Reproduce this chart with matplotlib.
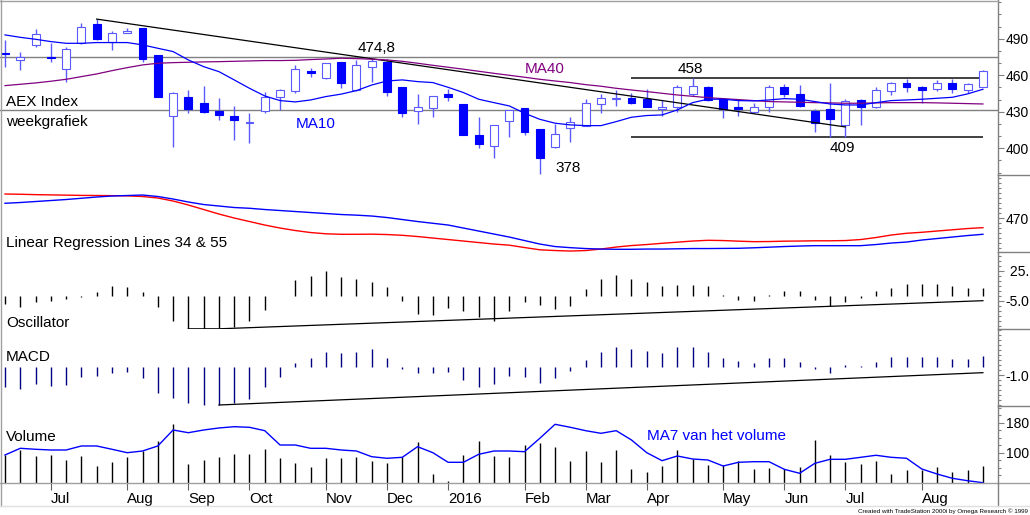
import numpy as np
import pandas as pd
import matplotlib
matplotlib.use("Agg")
import matplotlib.pyplot as plt
from matplotlib.lines import Line2D

# ---------------- data ----------------
WEEKS = pd.date_range("2015-06-12", "2016-09-02", freq="W-FRI")

OPEN = [478.6, 472.6, 484.9, 474.8, 465.0, 486.8, 502.2, 487.7, 495.0, 498.6,
        476.7, 426.6, 441.9, 437.0, 430.7, 426.6, 420.6, 430.7, 442.5, 447.2,
        463.3, 457.5, 471.0, 448.0, 467.1, 471.2, 450.1, 430.9, 432.9, 444.7,
        436.4, 411.0, 402.2, 422.5, 433.4, 415.6, 400.8, 416.4, 418.6, 436.4,
        440.5, 441.6, 440.3, 432.3, 433.7, 444.4, 450.1, 440.5, 433.7, 429.6,
        433.7, 450.7, 444.4, 431.0, 432.0, 418.9, 439.7, 433.7, 447.4, 453.4,
        450.7, 448.5, 454.0, 448.0, 450.7]
HIGH = [489.0, 479.5, 497.7, 486.8, 483.0, 502.7, 506.0, 496.0, 498.6, 498.6,
        476.7, 446.0, 448.0, 451.1, 441.0, 434.8, 428.8, 446.6, 448.5, 468.5,
        465.8, 470.0, 471.0, 472.6, 473.0, 473.2, 450.1, 444.4, 443.3, 448.5,
        436.4, 425.5, 419.5, 431.5, 433.4, 415.6, 419.7, 425.5, 440.5, 444.4,
        447.8, 445.2, 448.5, 439.7, 452.0, 457.4, 451.2, 441.0, 439.7, 437.5,
        452.0, 452.9, 452.0, 432.0, 453.4, 440.3, 440.3, 450.1, 454.8, 456.7,
        451.2, 456.2, 456.7, 453.4, 464.4]
LOW = [467.1, 464.4, 483.5, 471.2, 454.8, 486.0, 489.0, 480.8, 495.0, 471.2,
       442.0, 401.0, 429.3, 429.3, 423.3, 406.8, 404.7, 428.8, 431.5, 445.2,
       458.9, 457.0, 449.3, 447.0, 454.8, 443.0, 426.0, 419.7, 425.5, 439.2,
       411.0, 400.0, 392.3, 409.6, 411.0, 378.6, 400.0, 405.5, 418.0, 428.8,
       435.0, 436.5, 434.0, 426.6, 430.0, 442.8, 439.2, 425.2, 426.6, 429.0,
       430.1, 442.5, 434.3, 413.7, 409.6, 409.6, 419.2, 433.0, 443.8, 446.6,
       437.0, 447.4, 445.8, 445.2, 450.0]
CLOSE = [477.5, 475.3, 494.0, 474.0, 481.4, 500.0, 489.6, 495.0, 496.4, 473.2,
         442.5, 445.8, 432.6, 430.0, 427.4, 423.3, 421.9, 441.9, 448.0, 464.9,
         462.2, 469.9, 453.4, 468.5, 472.0, 446.6, 428.8, 433.7, 443.3, 441.9,
         411.0, 403.6, 419.2, 431.5, 413.7, 392.3, 411.5, 421.9, 437.5, 441.6,
         441.3, 437.0, 434.3, 433.7, 450.0, 451.0, 439.7, 432.0, 432.3, 433.7,
         450.1, 444.7, 435.0, 421.1, 424.1, 438.9, 433.7, 447.9, 453.4, 450.1,
         448.0, 453.4, 448.5, 452.6, 463.6]
MA10 = [493.2, 491.2, 489.6, 487.7, 486.3, 486.3, 486.9, 486.9, 486.9, 485.0,
        482.2, 479.5, 472.6, 467.1, 463.0, 456.2, 449.3, 443.0, 439.2, 438.1,
        439.7, 442.5, 444.5, 447.4, 452.0, 455.3, 456.2, 454.8, 454.0, 450.1,
        445.8, 440.3, 437.5, 434.8, 428.8, 423.8, 420.6, 419.2, 418.6, 418.6,
        421.9, 425.5, 426.9, 427.4, 431.5, 437.5, 440.3, 440.3, 439.2, 438.9,
        439.7, 440.8, 440.3, 438.4, 436.4, 435.6, 435.6, 437.5, 439.2, 439.7,
        440.3, 441.1, 441.9, 444.7, 448.5]
MA40 = [451.5, 452.6, 453.7, 455.1, 456.7, 458.9, 461.1, 463.8, 466.3, 468.5,
        469.9, 470.4, 470.7, 471.0, 471.2, 471.5, 471.8, 472.1, 472.1, 472.3,
        472.9, 473.4, 474.0, 473.7, 473.2, 472.6, 471.5, 469.9, 468.2, 466.6,
        465.0, 463.3, 461.6, 460.0, 458.4, 456.7, 455.3, 454.0, 452.3, 451.0,
        449.3, 447.9, 446.6, 445.2, 443.8, 442.7, 441.6, 440.8, 440.0, 439.2,
        438.4, 438.1, 437.8, 437.5, 437.3, 437.0, 437.0, 437.3, 437.5, 437.5,
        437.5, 437.3, 437.0, 436.7, 436.4]
LR34 = [482.0, 482.6, 483.4, 484.2, 485.0, 486.0, 487.0, 487.8, 488.2, 488.6,
        487.4, 485.4, 483.0, 481.0, 479.8, 478.6, 478.0, 477.0, 476.2, 475.4,
        474.6, 473.8, 473.0, 472.5, 471.8, 470.6, 469.0, 467.4, 466.0, 464.6,
        462.2, 459.8, 457.4, 455.0, 452.2, 449.4, 447.4, 446.5, 445.8, 445.4,
        445.2, 445.2, 445.4, 445.4, 445.6, 445.8, 445.8, 445.9, 446.0, 446.4,
        446.9, 447.4, 447.8, 448.1, 448.1, 448.1, 448.1, 449.0, 450.2, 451.0,
        452.6, 453.8, 455.0, 456.2, 457.2]
LR55 = [489.4, 489.2, 488.9, 488.7, 488.5, 488.3, 488.2, 488.1, 487.9, 487.4,
        486.2, 483.8, 480.6, 477.0, 473.4, 470.2, 467.4, 464.6, 462.2, 460.2,
        458.6, 457.6, 457.2, 457.2, 457.3, 457.0, 456.4, 455.4, 454.2, 453.0,
        451.8, 450.6, 449.4, 448.5, 446.6, 444.8, 444.2, 443.8, 444.2, 445.4,
        447.0, 448.2, 449.0, 450.0, 450.9, 451.8, 452.4, 452.2, 451.7, 451.3,
        451.4, 451.7, 451.8, 452.0, 452.0, 452.2, 453.0, 454.6, 456.6, 458.0,
        458.8, 459.8, 460.8, 461.8, 462.5]
OSC = [-8.3, -11.7, -6.7, -5.7, -3.3, -1.7, 4.0, 10.0, 8.3, 3.3,
       -11.7, -25.7, -33.3, -33.3, -32.7, -31.7, -25.0, -14.3, -0.7, 15.7,
       19.3, 24.3, 18.3, 16.7, 13.3, 8.3, -5.7, -18.3, -19.0, -12.7,
       -15.0, -21.7, -25.7, -15.0, -6.3, -9.7, -13.7, -10.3, 7.0, 17.0,
       21.0, 17.0, 13.7, 9.3, 10.3, 10.3, 9.3, 1.0, -4.7, -5.3,
       1.0, 4.3, 4.3, -4.7, -10.7, -6.3, -2.5, 4.3, 8.0, 11.3,
       12.0, 11.3, 9.3, 8.0, 8.0]
MACD = [-2.41, -2.72, -2.08, -2.33, -2.20, -1.28, -1.12, -0.80, -0.60, -1.40,
        -3.13, -3.81, -4.41, -4.61, -4.61, -4.41, -3.93, -2.48, -1.28, 0.40,
        1.00, 1.81, 1.60, 1.81, 2.08, 1.00, -0.33, -0.81, -0.72, -0.60,
        -1.60, -2.48, -2.08, -1.12, -1.20, -2.00, -1.40, -0.48, 0.81, 1.72,
        2.33, 2.13, 1.93, 1.69, 2.33, 2.33, 1.72, 1.08, 0.69, 0.40,
        1.00, 1.00, 0.52, -0.33, -0.72, 0.20, 0.12, 0.60, 1.12, 1.20,
        1.12, 1.20, 0.93, 0.93, 1.33]
VOLUME = [93.9, 107.2, 91.2, 93.9, 80.5, 91.2, 64.5, 75.2, 87.7, 104.5,
          132.0, 176.5, 69.9, 80.5, 89.3, 96.5, 96.5, 109.1, 85.1, 73.3,
          61.1, 86.7, 85.1, 89.3, 78.7, 73.3, 87.7, 127.7, 43.2, 24.0,
          93.9, 131.2, 91.2, 87.7, 120.5, 125.1, 116.0, 77.9, 104.5, 75.2,
          107.2, 55.7, 48.5, 65.3, 107.2, 82.4, 67.2, 67.2, 77.9, 56.5,
          59.2, 56.5, 61.1, 133.9, 93.9, 76.0, 69.9, 77.9, 43.2, 53.9,
          53.9, 61.1, 48.5, 53.9, 64.5]
VOL_MA7 = [93.9, 111.7, 109.1, 107.2, 107.2, 117.9, 117.9, 109.1, 100.0, 104.5,
           117.9, 160.5, 153.3, 160.5, 165.9, 169.3, 167.7, 158.7, 120.5, 120.5,
           111.7, 111.7, 107.2, 104.5, 89.3, 85.1, 87.7, 116.0, 100.0, 74.4,
           74.4, 95.7, 104.5, 104.5, 102.7, 138.4, 175.7, 167.7, 158.7, 151.7,
           158.7, 133.9, 100.0, 78.7, 91.2, 83.2, 80.5, 64.5, 74.4, 76.0,
           76.0, 55.7, 45.1, 71.7, 82.4, 82.4, 87.7, 93.1, 87.7, 85.1,
           56.5, 43.2, 31.7, 25.3, 20.0]

PEAK_LEVEL = 474.8
SUPPORT_LEVEL = 431.5
RANGE_TOP = 458
RANGE_BOTTOM = 409
RANGE_FROM, RANGE_TO = 41, 64
DOWNTREND_X, DOWNTREND_Y = [6, 55], [506.2, 417.5]
OSC_TREND_X, OSC_TREND_Y = [12, 14, 64], [-33.3, -33.3, -5.2]
MACD_TREND_X, MACD_TREND_Y = [14, 64], [-4.61, -0.72]

# ---------------- figure ----------------
plt.rcParams['font.family'] = ['Liberation Sans', 'DejaVu Sans']
W, H = 1030, 515
fig = plt.figure(figsize=(W / 100, H / 100), dpi=100)
AXR = 998.0
GRAY = '#808080'
LBL = 11


def panel(top, bottom):
    ax = fig.add_axes([0, 1 - bottom / H, AXR / W, (bottom - top) / H])
    ax.set_facecolor('none')
    for s in ('top', 'left', 'bottom'):
        ax.spines[s].set_visible(False)
    ax.spines['right'].set_color(GRAY)
    ax.spines['right'].set_linewidth(1)
    ax.yaxis.tick_right()
    ax.tick_params(axis='y', which='major', length=4.5, width=0.8, color=GRAY,
                   labelsize=10, pad=1)
    ax.tick_params(axis='y', which='minor', length=2.5, width=0.8, color=GRAY)
    ax.tick_params(axis='x', which='both', bottom=False, labelbottom=False)
    ax.set_xlim(-5 / 15.28, (AXR - 5) / 15.28)
    return ax


x = np.arange(len(CLOSE))
O, Hh, L, C = map(np.array, (OPEN, HIGH, LOW, CLOSE))

# price panel
ax = panel(0, 175)
ax.set_ylim(378.0, 521.9)
ax.axhline(PEAK_LEVEL, color=GRAY, lw=1, zorder=1)
ax.axhline(SUPPORT_LEVEL, color=GRAY, lw=1, zorder=1)
ax.hlines([RANGE_TOP, RANGE_BOTTOM], RANGE_FROM, RANGE_TO, color='#404040', lw=1.4, zorder=1)
ax.plot(DOWNTREND_X, DOWNTREND_Y, color='black', lw=0.9, zorder=4)
ax.plot(x, MA40, color='#800080', lw=0.9, zorder=4)
ax.plot(x, MA10, color='#0000ff', lw=0.9, zorder=4)
up = C >= O
ax.vlines(x, L, Hh, color='#5a5aff', lw=1, zorder=2)
bot = np.minimum(O, C)
hgt = np.maximum(np.abs(C - O), 0.8)
ax.bar(x[up], hgt[up], bottom=bot[up], width=0.52, facecolor='white',
       edgecolor='#5a5aff', lw=0.8, zorder=3)
ax.bar(x[~up], hgt[~up], bottom=bot[~up], width=0.52, facecolor='#0000ff',
       edgecolor='#0000ff', lw=0.8, zorder=3)
ax.set_yticks([400, 430, 460, 490])
ax.set_yticks(np.arange(380, 521, 10), minor=True)
ax.text(24.3, 479.4, '474,8', ha='center', va='baseline', fontsize=LBL)
ax.text(34.0, 461.6, 'MA40', ha='left', va='baseline', fontsize=LBL, color='#800080')
ax.text(44.0, 461.9, '458', ha='left', va='baseline', fontsize=LBL)
ax.text(54.8, 397.2, '409', ha='center', va='baseline', fontsize=LBL)
ax.text(36.0, 380.7, '378', ha='left', va='baseline', fontsize=LBL)
ax.text(0.05, 434.7, 'AEX Index', ha='left', va='baseline', fontsize=LBL)
ax.text(0.05, 418.3, 'weekgrafiek', ha='left', va='baseline', fontsize=LBL)
ax.text(19.0, 416.4, 'MA10', ha='left', va='baseline', fontsize=LBL, color='#0000ff')

# linear regression panel
ax = panel(175, 252.3)
ax.set_ylim(442.8, 504.6)
ax.plot(x, LR55, color='#ff0000', lw=1)
ax.plot(x, LR34, color='#0000ff', lw=1)
ax.set_yticks([470])
ax.set_yticks(np.arange(446, 505, 4), minor=True)
ax.text(0.05, 447.3, 'Linear Regression Lines 34 & 55', ha='left', va='baseline', fontsize=LBL)

# oscillator panel
ax = panel(252.3, 329.3)
ax.set_ylim(-33.8, 43.2)
ax.vlines(x, 0, OSC, color='black', lw=1)
ax.plot(OSC_TREND_X, OSC_TREND_Y, color='black', lw=0.9)
ax.set_yticks([25, -5])
ax.set_yticklabels([' 25.', '-5.0'])
ax.set_yticks(np.arange(-30, 41, 5), minor=True)
ax.text(0.05, -31.2, 'Oscillator', ha='left', va='baseline', fontsize=LBL)

# MACD panel
ax = panel(329.3, 406)
ax.set_ylim(-4.73, 4.5)
ax.vlines(x, 0, MACD, color='#000080', lw=1)
ax.plot(MACD_TREND_X, MACD_TREND_Y, color='black', lw=0.9)
ax.set_yticks([-1.0])
ax.set_yticklabels(['-1.0'])
ax.set_yticks(np.arange(-4.6, 4.5, 0.6), minor=True)
ax.text(0.05, 0.72, 'MACD', ha='left', va='baseline', fontsize=LBL)

# volume panel
ax = panel(406, 483.3)
ax.set_ylim(18.4, 224.5)
ax.vlines(x, 0, VOLUME, color='black', lw=1)
ax.plot(x, VOL_MA7, color='#0000ff', lw=1)
ax.set_yticks([100, 180])
ax.set_yticks(np.arange(40, 221, 20), minor=True)
ax.text(0.05, 132, 'Volume', ha='left', va='baseline', fontsize=LBL)
ax.text(42.0, 133.9, 'MA7 van het volume', ha='left', va='baseline', fontsize=LBL, color='#0000ff')

pos, labs = [], []
for i in range(1, len(WEEKS) - 1):
    if WEEKS[i].month != WEEKS[i - 1].month:
        pos.append(i)
        labs.append(str(WEEKS[i].year) if WEEKS[i].month == 1 else WEEKS[i].strftime('%b'))
ax.tick_params(axis='x', which='major', bottom=True, labelbottom=True, length=5,
               width=0.8, color='#606060', labelsize=10.8, pad=1.5)
ax.set_xticks(pos)
ax.set_xticklabels(labs, ha='left')

# frame and separators
def fline(xs, ys, color=GRAY, lw=1):
    fig.add_artist(Line2D([v / W for v in xs], [1 - v / H for v in ys], color=color,
                          lw=lw, transform=fig.transFigure))

for yy in (175, 252.3, 329.3, 406):
    fline([AXR, W], [yy, yy])
fline([0, W], [483.3, 483.3], color='#a0a0a0')
fline([AXR, AXR], [483.3, 506])
fline([1, 1], [0, 506], color='#a0a0a0')
fline([0, AXR], [0.5, 0.5], color='#a0a0a0')
fline([0, W], [506, 506], color='#e0e0e0')

fig.text(1028 / W, 1 - 512.5 / H, 'Created with TradeStation 2000i by Omega Research \u00a9 1999',
         ha='right', va='baseline', fontsize=4.5)

fig.savefig('out.png', dpi=100)
